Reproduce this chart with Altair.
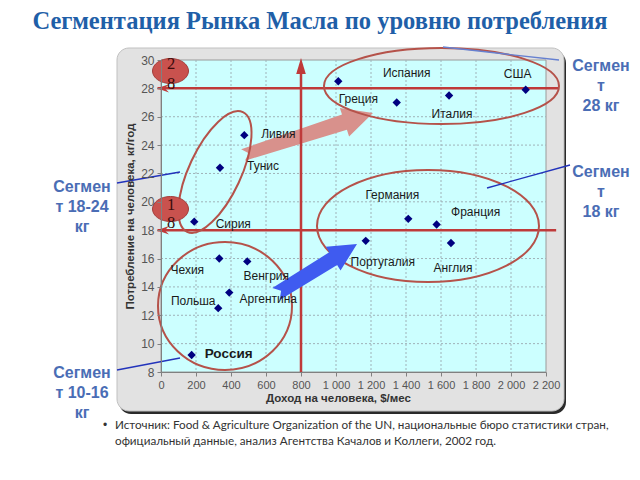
import altair as alt
import pandas as pd

# ---------------- data ----------------
countries = ["Греция", "Испания", "Италия", "США",
             "Португалия", "Германия", "Франция", "Англия",
             "Ливия", "Тунис", "Сирия",
             "Чехия", "Венгрия", "Польша", "Аргентина", "Россия"]
income = [1013, 1347, 1646, 2084,
          1170, 1413, 1575, 1657,
          476, 337, 190,
          333, 493, 327, 390, 175]
consumption = [28.5, 27.0, 27.5, 27.9,
               17.25, 18.8, 18.4, 17.1,
               24.7, 22.4, 18.6,
               16.0, 15.8, 12.5, 13.6, 9.2]

x_ticks = [0, 200, 400, 600, 800, 1000, 1200, 1400, 1600, 1800, 2000, 2200]
y_ticks = [8, 10, 12, 14, 16, 18, 20, 22, 24, 26, 28, 30]
segment_levels = [28, 18]
income_threshold = 800

title_text = "Сегментация Рынка Масла по уровню потребления"
x_title = "Доход на человека, $/мес"
y_title = "Потребление на человека, кг/год"
source_lines = ["Источник: Food & Agriculture Organization of the UN, национальные бюро статистики стран,",
                "официальный данные, анализ Агентства Качалов и Коллеги, 2002 год."]

# ---------------- layout / style ----------------
W, H = 385, 312
X0, Y0 = 161, 60          # page position of the plot origin
XMIN, XMAX, YMIN, YMAX = 0, 2200, 8, 30
kx = W / (XMAX - XMIN)
ky = H / (YMAX - YMIN)

# label offsets (pixels) relative to each point
label_offset = {
    "Греция": (20, 18), "Испания": (10, -30), "Италия": (3, 19), "США": (-8, -16),
    "Португалия": (17, 21), "Германия": (-16, -24), "Франция": (39, -13), "Англия": (2, 25),
    "Ливия": (34, -1), "Тунис": (43, -2), "Сирия": (39, 2),
    "Чехия": (-32, 11), "Венгрия": (19, 15), "Польша": (-25, -7), "Аргентина": (39, 6),
    "Россия": (37, -1),
}

RED = "#bf3a3a"
ELL = "#b5524a"
SEG = "#4a6db5"
SANS = "Liberation Sans"


def P(px):
    return px - X0


def Q(py):
    return py - Y0


one = pd.DataFrame({"k": [0]})

xs = alt.Scale(domain=[XMIN, XMAX], nice=False, zero=False)
ys = alt.Scale(domain=[YMIN, YMAX], nice=False, zero=False)

xaxis = alt.Axis(values=x_ticks, grid=False, zindex=1, title=x_title,
                 labelExpr="replace(format(datum.value, ','), ',', ' ')",
                 labelFont=SANS, labelFontSize=11, labelColor="#555555",
                 labelOverlap=False, labelFlush=False, labelPadding=3,
                 tickSize=4, tickColor="#808080", domainColor="#808080",
                 titleFont=SANS, titleFontSize=11.5, titleFontWeight="bold",
                 titleColor="#333333", titleX=177, titlePadding=2)
yaxis = alt.Axis(values=y_ticks, grid=False, zindex=1, title=y_title,
                 labelFont=SANS, labelFontSize=12, labelColor="#555555",
                 labelOverlap=False, labelFlush=False, labelPadding=3,
                 tickSize=4, tickColor="#808080", domainColor="#808080",
                 titleFont=SANS, titleFontSize=11.5, titleFontWeight="bold",
                 titleColor="#333333", titlePadding=5)


def X(field):
    return alt.X(field, type="quantitative", scale=xs, axis=xaxis)


def Y(field):
    return alt.Y(field, type="quantitative", scale=ys, axis=yaxis)


def rect(x1, y1, x2, y2, **kw):
    return alt.Chart(one).mark_rect(**kw).encode(
        x=alt.value(P(x1)), x2=alt.value(P(x2)), y=alt.value(Q(y1)), y2=alt.value(Q(y2)))


def txt(s, x, y, **kw):
    kw.setdefault("align", "center")
    kw.setdefault("baseline", "middle")
    return alt.Chart(one).mark_text(text=s, **kw).encode(x=alt.value(P(x)), y=alt.value(Q(y)))


def seg(x1, y1, x2, y2, **kw):
    return alt.Chart(one).mark_rule(**kw).encode(
        x=alt.value(P(x1)), y=alt.value(Q(y1)), x2=alt.value(P(x2)), y2=alt.value(Q(y2)))


def ellipse_path(b):
    k = 0.5523
    return (f"M1,0 C1,{k*b:.4f} {k},{b:.4f} 0,{b:.4f} C{-k},{b:.4f} -1,{k*b:.4f} -1,0 "
            f"C-1,{-k*b:.4f} {-k},{-b:.4f} 0,{-b:.4f} C{k},{-b:.4f} 1,{-k*b:.4f} 1,0 Z")


def ellipse(cx, cy, rx, ry, angle=0, filled=False, **kw):
    m = dict(shape=ellipse_path(ry / rx), size=(2 * rx) ** 2, opacity=1, filled=filled)
    if angle:
        m["angle"] = angle
    m.update(kw)
    return alt.Chart(one).mark_point(**m).encode(x=alt.value(P(cx)), y=alt.value(Q(cy)))


def arrow(tail, tip, shaft0, shaft1, head_w, head_l, color):
    import math
    dx, dy = tip[0] - tail[0], tip[1] - tail[1]
    L = math.hypot(dx, dy)
    u = L / 2
    ang = math.degrees(math.atan2(dy, dx)) % 360
    a, b, hw, hb = shaft0 / u, shaft1 / u, head_w / u, 1 - head_l / u
    notch = -1 + 6 / u
    path = (f"M-1,{-a:.3f} L{hb:.3f},{-b:.3f} L{hb:.3f},{-hw:.3f} L1,0 "
            f"L{hb:.3f},{hw:.3f} L{hb:.3f},{b:.3f} L-1,{a:.3f} L{notch:.3f},0 Z")
    cx, cy = (tail[0] + tip[0]) / 2, (tail[1] + tip[1]) / 2
    return alt.Chart(one).mark_point(shape=path, size=L * L, angle=ang, filled=True,
                                     color=color, opacity=1, strokeWidth=0).encode(
        x=alt.value(P(cx)), y=alt.value(Q(cy)))


df = pd.DataFrame({"country": countries, "income": income, "consumption": consumption})
df["lx"] = [i + label_offset[c][0] / kx for c, i in zip(countries, income)]
df["ly"] = [v - label_offset[c][1] / ky for c, v in zip(countries, consumption)]

layers = []
# frame with shadow
layers.append(rect(119, 51, 566, 414, color="#2a2a2a", cornerRadius=12))
layers.append(rect(117, 48, 564, 411, fill="#e2e2e2", stroke="#c0c0c0", strokeWidth=1, cornerRadius=12))
# plot background
layers.append(alt.Chart(one).mark_rect(fill="#ccffff", stroke="#9a9a9a", strokeWidth=1).encode(
    x=alt.value(0), x2=alt.value(W), y=alt.value(0), y2=alt.value(H)))
# grid
gx = pd.DataFrame({"v": x_ticks[1:-1]})
gy = pd.DataFrame({"v": y_ticks[1:-1]})
layers.append(alt.Chart(gx).mark_rule(color="#9fb2b8", strokeDash=[2, 2], strokeWidth=1).encode(
    x=X("v"), y=alt.value(0), y2=alt.value(H)))
layers.append(alt.Chart(gy).mark_rule(color="#9fb2b8", strokeDash=[2, 2], strokeWidth=1).encode(
    y=Y("v"), x=alt.value(0), x2=alt.value(W)))

# pink arrow (below red lines)
layers.append(arrow((243, 155), (373, 113), 6, 8, 15, 30, "#d8918c"))

# red segment lines
hl = pd.DataFrame({"y": segment_levels, "x1": [-20, -20], "x2": [2275, 2258]})
layers.append(alt.Chart(hl).mark_rule(color=RED, strokeWidth=2.5).encode(
    y=Y("y"), x=X("x1"), x2=alt.X2("x2")))
layers.append(alt.Chart(hl).mark_point(shape="M-1,0 L1,-0.7 L0.3,0 L1,0.7 Z", size=144, filled=True,
                                       color=RED, opacity=1).encode(
    y=Y("y"), x=alt.value(P(163))))
vl = pd.DataFrame({"x": [income_threshold], "y1": [YMIN], "y2": [29.4]})
layers.append(alt.Chart(vl).mark_rule(color=RED, strokeWidth=2.5).encode(
    x=X("x"), y=Y("y1"), y2=alt.Y2("y2")))
layers.append(alt.Chart(vl).mark_point(shape="M0,-1 L0.6,1 L-0.6,1 Z", size=256, filled=True,
                                       color=RED, opacity=1).encode(
    x=X("x"), y=alt.value(Q(66))))

# segment ellipses
layers.append(ellipse(441.5, 86, 117.5, 38, stroke=ELL, strokeWidth=2))
layers.append(ellipse(428, 226, 111, 56, stroke=ELL, strokeWidth=2))
layers.append(ellipse(215, 172, 66, 26, angle=295, stroke=ELL, strokeWidth=2))
layers.append(ellipse(225, 306, 67, 64, stroke=ELL, strokeWidth=2))

# blue arrow
layers.append(arrow((276, 294), (357, 244), 7, 7.5, 14, 28, "#3f5bf0"))

# badges
for cy, top, bot, ty, by in [(71, "2", "8", 64, 84), (209, "1", "8", 205, 223)]:
    layers.append(ellipse(170.5, cy, 18, 12.5, filled=True, fill="#c9524e", stroke="#a33d3a", strokeWidth=1))
    layers.append(txt(top, 171, ty, font="Liberation Serif", fontSize=16.5, color="#3a0c0c"))
    layers.append(txt(bot, 171, by, font="Liberation Serif", fontSize=16.5, color="#3a0c0c"))

# data points
layers.append(alt.Chart(df).mark_point(shape="diamond", filled=True, size=70, color="#000080", opacity=1).encode(
    x=X("income"), y=Y("consumption")))
layers.append(alt.Chart(df[df.country != "Россия"]).mark_text(font=SANS, fontSize=12, color="#1a1a1a").encode(
    x=X("lx"), y=Y("ly"), text="country:N"))
layers.append(alt.Chart(df[df.country == "Россия"]).mark_text(font=SANS, fontSize=13.5, fontWeight="bold",
                                                               color="#1a1a1a").encode(
    x=X("lx"), y=Y("ly"), text="country:N"))

# leader lines
layers.append(seg(443, 47, 559, 60, color="#6680d0", strokeWidth=1.3))
layers.append(seg(487, 188, 570, 165, color="#2233bb", strokeWidth=1.3))
layers.append(seg(117, 183, 180, 172, color="#2233bb", strokeWidth=1.3))
layers.append(seg(117, 370, 180, 358, color="#2233bb", strokeWidth=1.3))

# segment captions
segf = dict(font=SANS, fontSize=16, fontWeight="bold", color=SEG)
for x, y0, lines in [(82, 187, ["Сегмен", "т 18-24", "кг"]),
                     (82, 373, ["Сегмен", "т 10-16", "кг"]),
                     (601, 66, ["Сегмен", "т", "28 кг"]),
                     (601, 172, ["Сегмен", "т", "18 кг"])]:
    for i, s in enumerate(lines):
        layers.append(txt(s, x, y0 + 20 * i, **segf))

# title
layers.append(txt(title_text, 320, 22, font="Liberation Serif", fontSize=24.5, fontWeight="bold", color="#1f5fa8"))

# source note
layers.append(txt("•", 105, 425, font=SANS, fontSize=12, color="#333333"))
layers.append(txt(source_lines[0], 115, 425, align="left", font="Lato", fontSize=11.7, color="#333333"))
layers.append(txt(source_lines[1], 115, 441, align="left", font="Lato", fontSize=11.7, color="#333333"))

chart = alt.layer(*layers).properties(
    width=W, height=H,
    autosize=alt.AutoSizeParams(type="none"),
    padding={"left": X0 - 8, "top": Y0 - 8, "right": 624 - (X0 - 8) - W, "bottom": 464 - (Y0 - 8) - H},
).configure_view(strokeOpacity=0)

chart.save("out.html", embed_options={"renderer": "svg", "actions": False})
